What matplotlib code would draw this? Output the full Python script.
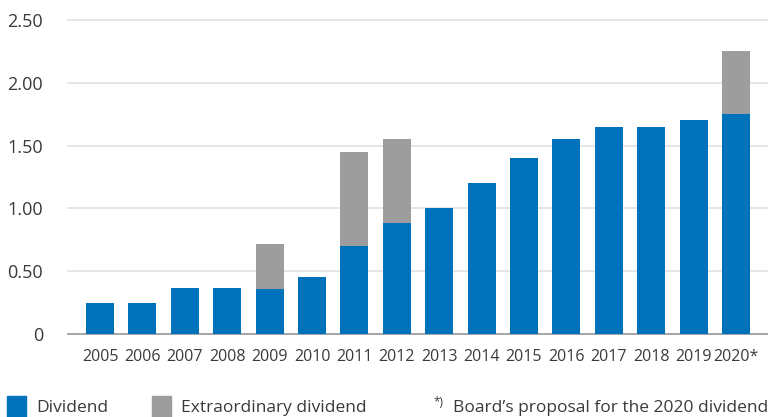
import matplotlib

matplotlib.use("Agg")
import matplotlib.pyplot as plt  # noqa: E402
from matplotlib.patches import Rectangle  # noqa: E402
import numpy as np

years = ["2005", "2006", "2007", "2008", "2009", "2010", "2011", "2012",
         "2013", "2014", "2015", "2016", "2017", "2018", "2019", "2020*"]
dividend = [0.25, 0.25, 0.37, 0.37, 0.36, 0.45, 0.70, 0.88,
            1.00, 1.20, 1.40, 1.55, 1.65, 1.65, 1.70, 1.75]
extraordinary = [0, 0, 0, 0, 0.36, 0, 0.75, 0.67,
                 0, 0, 0, 0, 0, 0, 0, 0.50]
yticks = [0, 0.5, 1.0, 1.5, 2.0, 2.5]
ytick_labels = ["0", "0.50", "1.00", "1.50", "2.00", "2.50"]

BLUE = "#0072bc"
GREY = "#9d9d9d"
TEXT = "#3a3a3a"

plt.rcParams["font.family"] = ["Open Sans", "DejaVu Sans"]

fig = plt.figure(figsize=(7.68, 4.17), dpi=100)
ax = fig.add_axes([68 / 768, 83 / 417, 700 / 768, 314 / 417])

x = np.arange(len(years))
ax.bar(x, dividend, width=0.66, color=BLUE, zorder=3)
ax.bar(x, extraordinary, width=0.66, bottom=dividend, color=GREY, zorder=3)

ax.set_xlim(-0.755, 15.755)
ax.set_ylim(0, 2.5)
ax.set_yticks(yticks)
ax.set_yticklabels(ytick_labels)
ax.set_xticks(x)
ax.set_xticklabels(years)
ax.grid(axis="y", color="#e2e2e2", linewidth=1.2, zorder=0)
for gl in ax.get_ygridlines():
    gl.set_clip_on(False)
for side in ("top", "right", "left"):
    ax.spines[side].set_visible(False)
ax.spines["bottom"].set_color("#9a9a9a")
ax.spines["bottom"].set_linewidth(1.2)
ax.tick_params(axis="y", length=0, pad=18, labelsize=13, labelcolor=TEXT)
ax.tick_params(axis="x", length=0, pad=11, labelsize=11.5, labelcolor=TEXT)

# legend and footnote along the bottom edge
fig.add_artist(Rectangle((7 / 768, 0), 19 / 768, 21 / 417,
                         transform=fig.transFigure, color=BLUE))
fig.text(36 / 768, 5 / 417, "Dividend", fontsize=12.5, color=TEXT, va="baseline")
fig.add_artist(Rectangle((152 / 768, 0), 19 / 768, 21 / 417,
                         transform=fig.transFigure, color=GREY))
fig.text(181 / 768, 5 / 417, "Extraordinary dividend", fontsize=12.5, color=TEXT,
         va="baseline")
fig.text(433 / 768, 11 / 417, "*)", fontsize=8.5, color=TEXT, va="baseline")
fig.text(1.0, 5 / 417, "Board’s proposal for the 2020 dividend", fontsize=12.5,
         color=TEXT, va="baseline", ha="right")

fig.savefig("out.png", dpi=100)
